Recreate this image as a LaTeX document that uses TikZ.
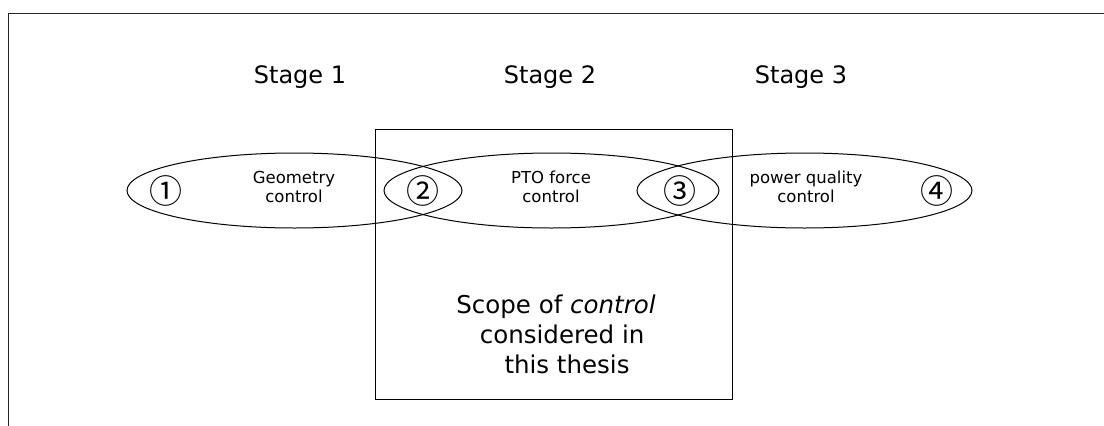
\documentclass[tikz,border=0pt]{standalone}
\usepackage{fontspec}
\setmainfont{DejaVu Sans}
\newfontfamily\circfont{Noto Sans CJK SC}
\usetikzlibrary{shapes.geometric}
\begin{document}
\begin{tikzpicture}[x=1pt,y=-1pt,
  stageellipse/.style={draw,ellipse,line width=1pt,minimum width=335pt,minimum height=75pt,inner sep=0pt},
  stagetitle/.style={font=\fontsize{24}{29}\selectfont},
  ctrllabel/.style={font=\fontsize{16.5}{19}\selectfont,align=center,inner sep=0pt},
  marker/.style={font=\circfont\fontsize{33}{36}\selectfont,inner sep=0pt},
  scopebox/.style={draw,line width=1pt,inner sep=0pt}]
  \useasboundingbox (0,0) rectangle (1104,426);
  \begin{scope}
    \clip (0,0) rectangle (1104,426);
    % outer frame (only the top and left edges fall inside the page)
    \draw[line width=1.6pt,black!85] (8.5,440) -- (8.5,13.5) -- (1120,13.5);
  \end{scope}

  % scope box
  \node[scopebox,minimum width=357pt,minimum height=270pt] (scope) at (553.5,264) {};

  % three overlapping stage ellipses
  \node[stageellipse] (e1) at (294.5,190.5) {};
  \node[stageellipse] (e2) at (551.5,190.5) {};
  \node[stageellipse] (e3) at (804.5,190.5) {};

  % stage titles
  \node[stagetitle] (s1) at (300,77) {Stage 1};
  \node[stagetitle] (s2) at (550,77) {Stage 2};
  \node[stagetitle] (s3) at (801,77) {Stage 3};

  % control labels inside the ellipses
  \node[ctrllabel] (l1) at (294,187) {Geometry\\control};
  \node[ctrllabel] (l2) at (551,187) {PTO force\\control};
  \node[ctrllabel] (l3) at (806,187) {power quality\\control};

  % circled interface markers
  \node[marker] (m1) at (166,190.5) {①};
  \node[marker] (m2) at (423,190.5) {②};
  \node[marker] (m3) at (680,190.5) {③};
  \node[marker] (m4) at (937,190.5) {④};

  % scope statement
  \node[font=\fontsize{24.5}{30}\selectfont,align=center,inner sep=0pt] (stmt) at (556,334)
    {Scope of \textit{control}\\\hspace*{0.5em}considered in\\\hspace*{0.9em}this thesis};
\end{tikzpicture}
\end{document}
